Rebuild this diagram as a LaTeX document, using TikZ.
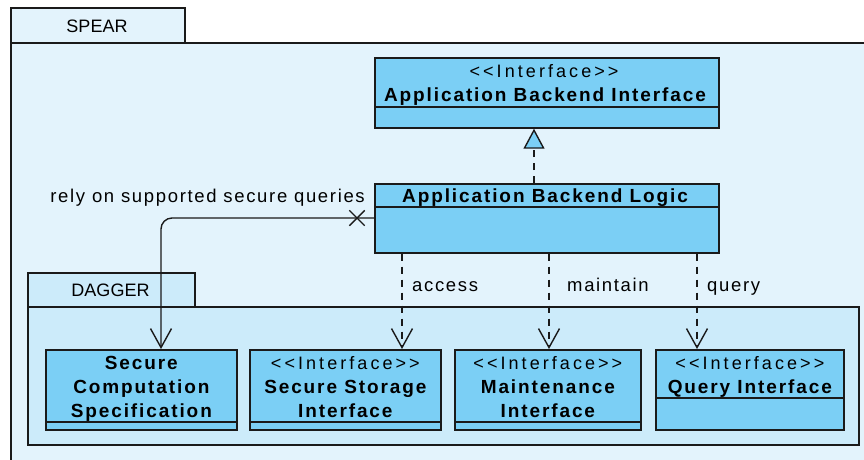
\documentclass[tikz,border=0pt]{standalone}
\usepackage{fontspec}
\setmainfont{Liberation Sans}
\newfontfamily\tabfont{Liberation Sans}
\newfontfamily\lblfont[LetterSpace=9]{Liberation Sans}
\newfontfamily\namefont[LetterSpace=10]{Liberation Sans}
\newfontfamily\stfont[LetterSpace=17]{Liberation Sans}
\usetikzlibrary{arrows.meta,shapes.misc}

\definecolor{outerfill}{HTML}{E3F3FC}
\definecolor{innerfill}{HTML}{CCEBFA}
\definecolor{clsfill}{HTML}{7BCFF5}
\definecolor{linec}{HTML}{1A1A1A}

\tikzset{
  pkg/.style={draw=linec, line width=1.6pt},
  cls/.style={draw=linec, fill=clsfill, line width=1.7pt, inner sep=0pt},
  divider/.style={draw=linec, line width=1.7pt},
  tabtext/.style={font=\tabfont\fontsize{18}{20}\selectfont, inner sep=0pt, anchor=base},
  lbltext/.style={font=\lblfont\fontsize{18.5}{21}\selectfont, inner sep=0pt, anchor=base},
  nametext/.style={font=\namefont\bfseries\fontsize{19}{21}\selectfont, inner sep=0pt, anchor=base},
  sttext/.style={font=\stfont\fontsize{18}{20}\selectfont, inner sep=0pt, anchor=base},
  openhead/.style={-{Straight Barb[length=19pt,width=21pt,line width=1.4pt]}},
  dep/.style={draw=linec, line width=1.4pt, dash pattern=on 7pt off 6pt},
  assoc/.style={draw=linec, line width=1.4pt},
}

\begin{document}
\begin{tikzpicture}[x=1pt,y=-1pt]
\clip (0,0) rectangle (864,459);
\fill[white] (0,0) rectangle (864,459);

% SPEAR package
\node[pkg, fill=outerfill, minimum width=174pt, minimum height=35pt, inner sep=0pt, anchor=north west] (speartab) at (10,7) {};
\node[pkg, fill=outerfill, minimum width=880pt, minimum height=440pt, inner sep=0pt, anchor=north west] (spear) at (10,42) {};
\node[tabtext] (spearlbl) at (97,32) {SPEAR};

% DAGGER package
\node[pkg, fill=innerfill, minimum width=167pt, minimum height=34pt, inner sep=0pt, anchor=north west] (daggertab) at (27,272) {};
\node[pkg, fill=innerfill, minimum width=831pt, minimum height=138pt, inner sep=0pt, anchor=north west] (dagger) at (27,306) {};
\node[tabtext] (daggerlbl) at (110.5,296) {DAGGER};

% Application Backend Interface
\node[cls, minimum width=344pt, minimum height=70pt, anchor=north west] (abi) at (374,57) {};
\draw[divider] (abi.west |- 0,107) -- (abi.east |- 0,107);
\node[sttext] (abist) at (544,77) {<<Interface>>};
\node[nametext] (abiname) at (545,101.5) {Application Backend Interface};

% Application Backend Logic
\node[cls, minimum width=344pt, minimum height=69pt, anchor=north west] (abl) at (374,183) {};
\draw[divider] (abl.west |- 0,207) -- (abl.east |- 0,207);
\node[nametext] (ablname) at (545,202) {Application Backend Logic};

% Secure Computation Specification
\node[cls, minimum width=191pt, minimum height=80pt, anchor=north west] (scs) at (45,349) {};
\draw[divider] (scs.west |- 0,422) -- (scs.east |- 0,422);
\node[nametext] (scs1) at (scs.north |- 0,369) {Secure};
\node[nametext] (scs2) at (scs.north |- 0,393) {Computation};
\node[nametext] (scs3) at (scs.north |- 0,417) {Specification};

% Secure Storage Interface
\node[cls, minimum width=191pt, minimum height=80pt, anchor=north west] (ssi) at (249,349) {};
\draw[divider] (ssi.west |- 0,422) -- (ssi.east |- 0,422);
\node[sttext] (ssist) at (ssi.north |- 0,369) {<<Interface>>};
\node[nametext] (ssi1) at (ssi.north |- 0,393) {Secure Storage};
\node[nametext] (ssi2) at (ssi.north |- 0,417) {Interface};

% Maintenance Interface
\node[cls, minimum width=186pt, minimum height=80pt, anchor=north west] (mi) at (454,349) {};
\draw[divider] (mi.west |- 0,422) -- (mi.east |- 0,422);
\node[sttext] (mist) at (mi.north |- 0,369) {<<Interface>>};
\node[nametext] (mi1) at (mi.north |- 0,393) {Maintenance};
\node[nametext] (mi2) at (mi.north |- 0,417) {Interface};

% Query Interface
\node[cls, minimum width=188pt, minimum height=80pt, anchor=north west] (qi) at (655,349) {};
\draw[divider] (qi.west |- 0,398) -- (qi.east |- 0,398);
\node[sttext] (qist) at (qi.north |- 0,369) {<<Interface>>};
\node[nametext] (qi1) at (qi.north |- 0,393) {Query Interface};

% realization: logic implements the interface
\coordinate (realx) at (534,0);
\draw[dep, -{Triangle[length=20pt,width=21pt,fill=clsfill,line width=1.4pt]}] (abl.north -| realx) -- (abi.south -| realx);

% usage dependencies
\coordinate (accx) at (402,0);
\coordinate (mntx) at (549,0);
\coordinate (qryx) at (697,0);
\draw[dep, openhead] (abl.south -| accx) -- (ssi.north -| accx);
\draw[dep, openhead] (abl.south -| mntx) -- (mi.north -| mntx);
\draw[dep, openhead] (abl.south -| qryx) -- (qi.north -| qryx);
\node[lbltext, anchor=base west] (acclbl) at (412,291) {access};
\node[lbltext, anchor=base west] (mntlbl) at (567,291) {maintain};
\node[lbltext, anchor=base west] (qrylbl) at (707,291) {query};

% navigable association with a non-navigable end at the logic
\coordinate (bend) at (161,218);
\draw[assoc, rounded corners=11pt, openhead] (abl.west |- bend) -- (bend) -- (bend |- scs.north);
\node[draw=linec, line width=1.4pt, cross out, minimum size=14pt, inner sep=0pt] (xmark) at (357,218) {};
\node[lbltext, anchor=base east] (relylbl) at (365,202) {rely on supported secure queries};
\end{tikzpicture}
\end{document}
